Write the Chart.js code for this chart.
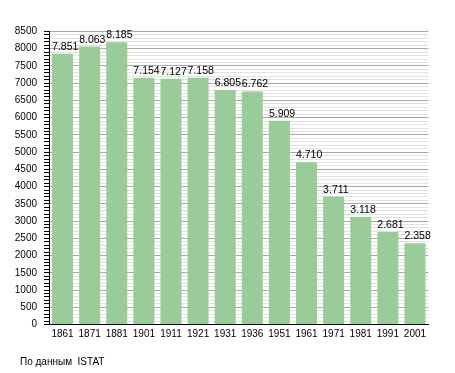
<!DOCTYPE html>
<html>
<head>
<meta charset="utf-8">
<script src="https://cdn.jsdelivr.net/npm/chart.js@4"></script>
<style>
  html,body{margin:0;padding:0;background:#fff;}
  #wrap{width:455px;height:373px;position:relative;}
</style>
</head>
<body>
<div id="wrap"><canvas id="chart"></canvas></div>
<script>
// ====== DATA ======
const years = ['1861','1871','1881','1901','1911','1921','1931','1936','1951','1961','1971','1981','1991','2001'];
const population = [7851, 8063, 8185, 7154, 7127, 7158, 6805, 6762, 5909, 4710, 3711, 3118, 2681, 2358];
const sourceNote = 'По данным  ISTAT';

const FONT = '"Liberation Sans", Arial, sans-serif';

// thousands with a dot, like 7.851
function fmt(v){ return String(v).replace(/\B(?=(\d{3})+(?!\d))/g, '.'); }

// ====== PLUGINS ======
const valueLabels = {
  id:'valueLabels',
  afterDatasetsDraw(chart){
    const ctx = chart.ctx;
    const meta = chart.getDatasetMeta(0);
    ctx.save();
    ctx.font = '10.5px ' + FONT;
    ctx.fillStyle = '#000';
    ctx.textAlign = 'left';
    ctx.textBaseline = 'alphabetic';
    meta.data.forEach((bar,i)=>{
      const left = bar.x - bar.width/2;
      ctx.fillText(fmt(population[i]), left, bar.y - 4);
    });
    ctx.restore();
  }
};

const footer = {
  id:'footer',
  afterDraw(chart){
    const ctx = chart.ctx;
    ctx.save();
    ctx.font = '10px ' + FONT;
    ctx.fillStyle = '#000';
    ctx.textBaseline = 'alphabetic';
    ctx.fillText(sourceNote, 20, 365);
    ctx.restore();
  }
};

// ====== CHART ======
new Chart(document.getElementById('chart'), {
  type:'bar',
  data:{
    labels:years,
    datasets:[{data:population, backgroundColor:'#99cc99', borderWidth:0,
      barPercentage:0.775, categoryPercentage:1}]
  },
  options:{
    responsive:true,
    maintainAspectRatio:false,
    animation:false,
    layout:{padding:{left:0, right:26.5, top:31.5, bottom:0}},
    plugins:{legend:{display:false}, tooltip:{enabled:false}},
    scales:{
      x:{
        grid:{display:false, drawTicks:false},
        border:{color:'#000', width:1},
        ticks:{color:'#000', font:{family:FONT, size:10}, padding:4, maxRotation:0, autoSkip:false},
        afterFit(s){ s.height = 48.5; }
      },
      y:{
        min:0, max:8500,
        grid:{
          color:c => c.tick && c.tick.value % 500 === 0 ? '#a8a8a8' : '#e2e2e2',
          tickColor:'#000',
          tickLength:5
        },
        border:{color:'#000', width:1},
        ticks:{
          stepSize:100, autoSkip:false, color:'#000', padding:7,
          font:{family:FONT, size:10},
          callback:v => v % 500 === 0 ? v : ''
        },
        afterFit(s){ s.width = 49; }
      }
    }
  },
  plugins:[valueLabels, footer]
});
</script>
</body>
</html>
